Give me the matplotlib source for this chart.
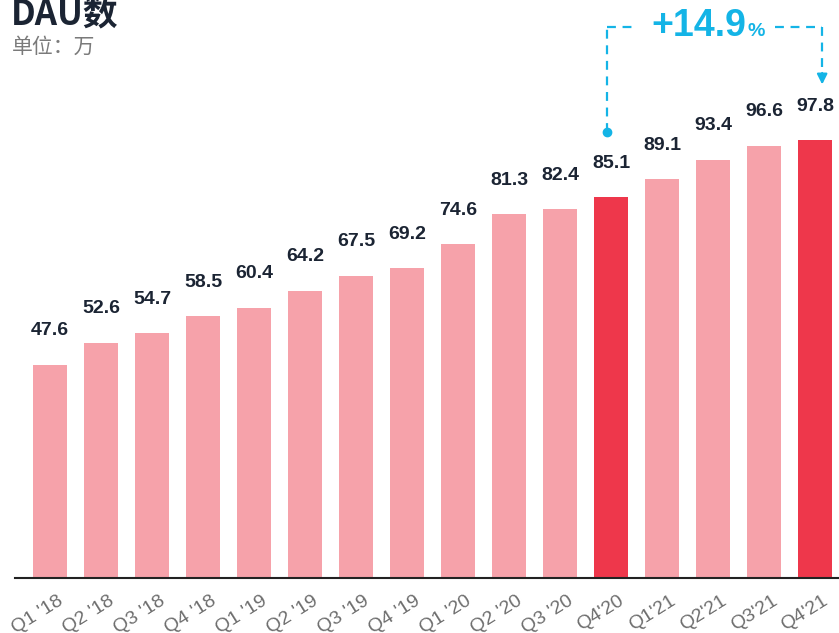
import matplotlib
matplotlib.use("Agg")
import matplotlib.pyplot as plt
import matplotlib.transforms as mtransforms

plt.rcParams['font.family'] = ['Liberation Sans', 'Noto Sans CJK SC', 'DejaVu Sans']

quarters = ["Q1 '18", "Q2 '18", "Q3 '18", "Q4 '18", "Q1 '19", "Q2 '19", "Q3 '19", "Q4 '19",
            "Q1 '20", "Q2 '20", "Q3 '20", "Q4'20", "Q1'21", "Q2'21", "Q3'21", "Q4'21"]
dau = [47.6, 52.6, 54.7, 58.5, 60.4, 64.2, 67.5, 69.2,
       74.6, 81.3, 82.4, 85.1, 89.1, 93.4, 96.6, 97.8]
highlight = ["Q4'20", "Q4'21"]
growth_label = "+14.9"

LIGHT = '#f6a2aa'
DARK = '#ee374b'
CYAN = '#14b4e6'
TXT = '#1b2433'

W, H = 839, 633
fig = plt.figure(figsize=(W / 100, H / 100), dpi=100)
ax = fig.add_axes([15 / W, (H - 578) / H, 824 / W, 578 / H])

x = list(range(len(quarters)))
colors = [DARK if q in highlight else LIGHT for q in quarters]
ax.bar(x, dau, width=0.667, color=colors, zorder=2)

for xi, v in zip(x, dau):
    ax.annotate(f"{v:.1f}", (xi, v), xytext=(0, 18.5), textcoords='offset points',
                ha='center', va='bottom', fontsize=14, fontweight='bold', color=TXT)

ax.set_xlim(-0.686, 15.47)
ax.set_ylim(0, 129.2)
for s in ['top', 'right', 'left']:
    ax.spines[s].set_visible(False)
ax.spines['bottom'].set_color('#222222')
ax.spines['bottom'].set_linewidth(1.5)
ax.set_yticks([])
ax.set_xticks(x)
ax.set_xticklabels(quarters, rotation=32, ha='right', rotation_mode='anchor',
                   fontsize=14, color='#6e6e6e')
ax.tick_params(axis='x', length=0, pad=10.5)
offset = mtransforms.ScaledTranslation(5.3 / 72, 0, fig.dpi_scale_trans)
for lbl in ax.get_xticklabels():
    lbl.set_transform(lbl.get_transform() + offset)

# growth annotation
i0 = quarters.index("Q4'20")
i1 = quarters.index("Q4'21")
y_top = 123.1
xl = i0 - 0.08
xr = i1 + 0.14
dash = (0, (4, 3))
ax.plot([xl, xl], [dau[i0] + 14.5, y_top], ls=dash, color=CYAN, lw=1.6, clip_on=False)
ax.plot([xl], [dau[i0] + 14.5], 'o', color=CYAN, ms=6, clip_on=False)
ax.plot([xl, 11.52], [y_top, y_top], ls=dash, color=CYAN, lw=1.6, clip_on=False)
ax.plot([14.22, xr], [y_top, y_top], ls=dash, color=CYAN, lw=1.6, clip_on=False)
ax.plot([xr, xr], [y_top, 112.5], ls=dash, color=CYAN, lw=1.6, clip_on=False)
ax.annotate('', xy=(xr, 109.7), xytext=(xr, 113.5),
            arrowprops=dict(arrowstyle='-|>', color=CYAN, lw=1.6, mutation_scale=15))
ax.text(13.65, y_top + 0.3, growth_label, ha='right', va='center',
        fontsize=27, fontweight='bold', color=CYAN)
ax.text(13.68, y_top - 0.9, '%', ha='left', va='center',
        fontsize=14, fontweight='bold', color=CYAN)

fig.text(11 / W, 1 - 25 / H, 'DAU数', fontsize=25, fontweight='bold', color=TXT,
         ha='left', va='baseline',
         family=['Liberation Sans Narrow', 'Noto Sans CJK SC', 'DejaVu Sans'])
fig.text(12 / W, 1 - 53 / H, '单位：万', fontsize=15, color='#7a7a7a',
         ha='left', va='baseline', family=['Noto Sans CJK SC', 'DejaVu Sans'])

fig.savefig('out.png', dpi=100)
